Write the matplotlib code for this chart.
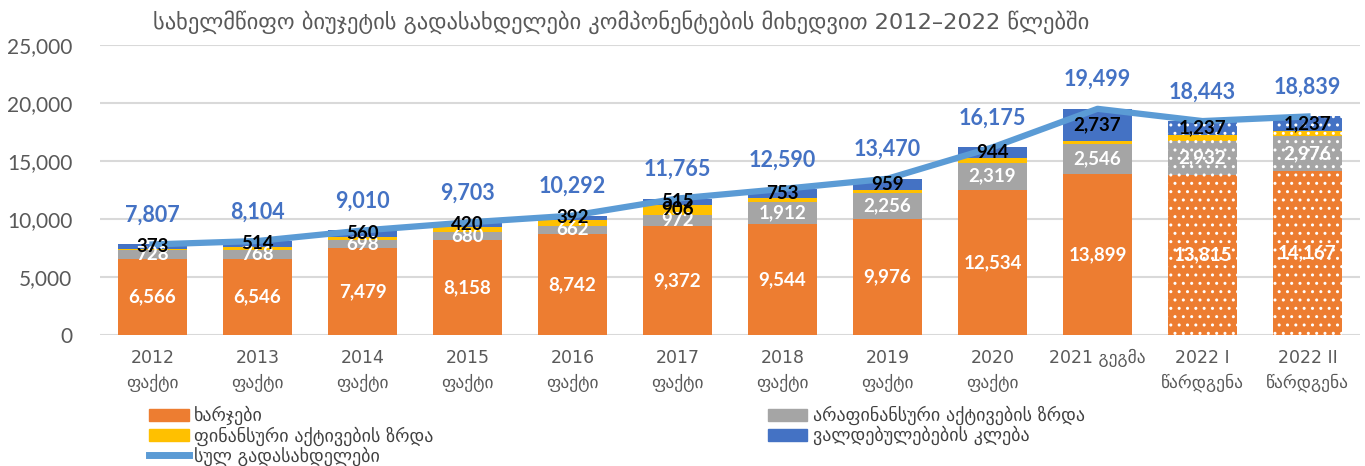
import numpy as np
import matplotlib
matplotlib.use("Agg")
import matplotlib.pyplot as plt
from matplotlib.patches import Patch
from matplotlib.lines import Line2D
from matplotlib.ticker import FuncFormatter
from matplotlib import font_manager as fm

categories = ["2012\nფაქტი", "2013\nფაქტი", "2014\nფაქტი", "2015\nფაქტი", "2016\nფაქტი",
              "2017\nფაქტი", "2018\nფაქტი", "2019\nფაქტი", "2020\nფაქტი", "2021 გეგმა",
              "2022 I\nწარდგენა", "2022 II\nწარდგენა"]
expenses = [6566, 6546, 7479, 8158, 8742, 9372, 9544, 9976, 12534, 13899, 13815, 14167]
nonfin_assets = [728, 768, 698, 680, 662, 972, 1912, 2256, 2319, 2546, 2932, 2976]
fin_assets = [140, 276, 273, 445, 496, 906, 381, 279, 378, 317, 459, 459]
liabilities = [373, 514, 560, 420, 392, 515, 753, 959, 944, 2737, 1237, 1237]
totals = [7807, 8104, 9010, 9703, 10292, 11765, 12590, 13470, 16175, 19499, 18443, 18839]
projected = [False] * 10 + [True, True]

title = "სახელმწიფო ბიუჯეტის გადასახდელები კომპონენტების მიხედვით 2012–2022 წლებში"
legend_labels = ["ხარჯები", "ფინანსური აქტივების ზრდა", "სულ გადასახდელები",
                 "არაფინანსური აქტივების ზრდა", "ვალდებულებების კლება"]

names = {f.name for f in fm.fontManager.ttflist}
num_font = "Lato" if "Lato" in names else "DejaVu Sans"
narrow = "Liberation Sans Narrow" if "Liberation Sans Narrow" in names else "DejaVu Sans"

C_OR = "#ED7D31"; C_GR = "#A5A5A5"; C_YE = "#FFC000"; C_BL = "#4472C4"; C_LN = "#5B9BD5"
TXT = "#595959"

fig = plt.figure(figsize=(13.65, 4.66), dpi=100)
ax = fig.add_axes([100/1365, 1-335/466, 1260/1365, 290/466])

x = np.arange(len(categories))
w = 0.66
exp = np.array(expenses); ng = np.array(nonfin_assets); fa = np.array(fin_assets); li = np.array(liabilities)
bottoms = [np.zeros(len(x)), exp, exp + ng, exp + ng + fa]
series = [exp, ng, fa, li]
colors = [C_OR, C_GR, C_YE, C_BL]
plt.rcParams['hatch.linewidth'] = 1.0
for s, b, c in zip(series, bottoms, colors):
    for i in range(len(x)):
        ax.bar(x[i], s[i], w, bottom=b[i], color=c, zorder=2,
               hatch='..' if projected[i] else None,
               edgecolor='white' if projected[i] else c, linewidth=0)

ax.plot(x, totals, color=C_LN, lw=4.5, zorder=3)

lab_kw = dict(ha='center', va='center', fontweight='bold', fontsize=13.5, family=[num_font, 'DejaVu Sans'], zorder=5)
for i in range(len(x)):
    ax.text(x[i], exp[i] / 2, f"{exp[i]:,}", color='white', **lab_kw)
    ax.text(x[i], exp[i] + ng[i] / 2, f"{ng[i]:,}", color='white', **lab_kw)
    if fa[i] > 800:
        ax.text(x[i], exp[i] + ng[i] + fa[i] / 2, f"{fa[i]:,}", color='black', **lab_kw)
    ax.text(x[i], exp[i] + ng[i] + fa[i] + li[i] / 2, f"{li[i]:,}", color='black', **lab_kw)
    ax.annotate(f"{totals[i]:,}", (x[i], totals[i]), xytext=(0, 21), textcoords='offset points',
                ha='center', va='center', fontweight='bold', fontsize=15.5, color=C_BL,
                family=[num_font, 'DejaVu Sans'], zorder=5)

ax.set_xlim(-0.5, 11.5)
ax.set_ylim(0, 25000)
ax.set_yticks(np.arange(0, 25001, 5000))
ax.yaxis.set_major_formatter(FuncFormatter(lambda v, p: f"{int(v):,}"))
ax.grid(axis='y', color='#D9D9D9', lw=1.5, zorder=0)
ax.set_axisbelow(True)
for sp in ax.spines.values():
    sp.set_visible(False)
ax.tick_params(axis='y', length=0, pad=20, labelsize=15, labelcolor=TXT)
ax.tick_params(axis='x', length=0, pad=10, labelsize=12.5, labelcolor=TXT)
ax.set_xticks(x)
ax.set_xticklabels(categories, family=[narrow, 'DejaVu Sans'], linespacing=1.5)
for t in ax.get_yticklabels():
    t.set_family([num_font, 'DejaVu Sans'])

fig.text(0.455, 0.952, title, ha='center', va='center', fontsize=16.2, color=TXT,
         family=['DejaVu Sans Condensed', 'DejaVu Sans'])

handles = [Patch(color=C_OR), Patch(color=C_YE), Line2D([0], [0], color=C_LN, lw=5),
           Patch(color=C_GR), Patch(color=C_BL)]
leg = fig.legend(handles, legend_labels, ncol=2, loc='upper left', bbox_to_anchor=(140/1365, 1-397/466),
                 frameon=False, fontsize=13, handlelength=2.2, handleheight=0.6, handletextpad=0.3,
                 columnspacing=18.5, labelspacing=0.05, borderpad=0, labelcolor='#404040')
fig.savefig("out.png", dpi=100)
